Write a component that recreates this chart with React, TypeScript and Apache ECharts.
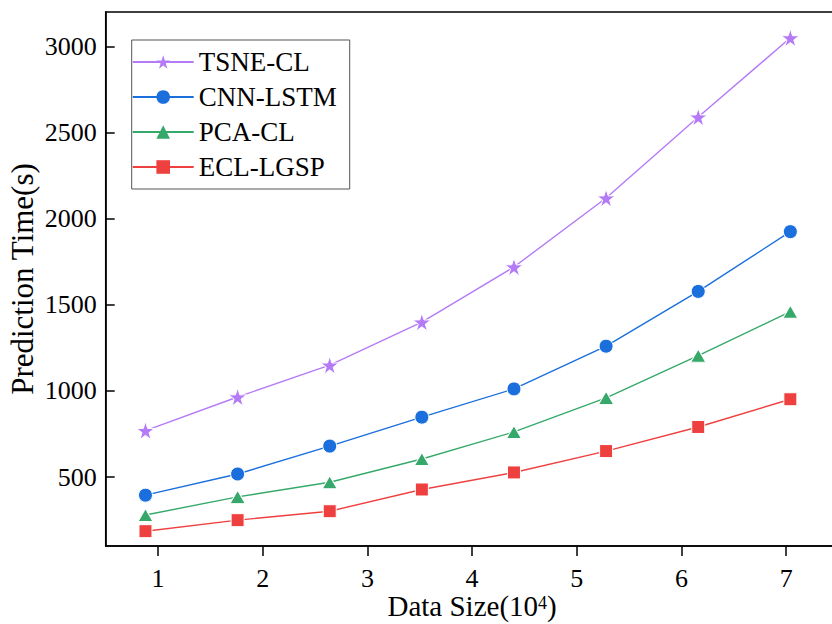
import React, { useEffect, useRef } from "react";
import * as echarts from "echarts";

const dataSize = [0.88, 1.76, 2.64, 3.52, 4.4, 5.28, 6.16, 7.04];
const tsneCL = [770, 965, 1150, 1400, 1720, 2120, 2590, 3050];
const cnnLSTM = [395, 518, 680, 848, 1012, 1260, 1578, 1925];
const pcaCL = [280, 385, 470, 605, 762, 960, 1205, 1460];
const eclLGSP = [186, 250, 302, 428, 527, 651, 791, 952];
const xTicks = [1, 2, 3, 4, 5, 6, 7];
const yTicks = [500, 1000, 1500, 2000, 2500, 3000];

const FONT = "'Liberation Serif', 'Times New Roman', serif";
const STAR =
  "path://M50,0 L61.8,35.1 L98.9,35.1 L68.9,56.8 L80.3,91.9 L50,70.2 L19.7,91.9 L31.1,56.8 L1.1,35.1 L38.2,35.1 Z";

const pairs = (ys: number[]) => ys.map((y, i) => [dataSize[i], y]);

export default function App() {
  const ref = useRef<HTMLDivElement>(null);
  useEffect(() => {
    if (!ref.current) return;
    const chart = echarts.init(ref.current, null, { renderer: "svg" });
    const mk = (name: string, ys: number[], color: string, symbol: string, size: any) => ({
      name,
      type: "line",
      data: pairs(ys),
      symbol,
      symbolSize: size,
      lineStyle: { color, width: 1.4 },
      itemStyle: { color, borderColor: "#fff", borderWidth: 1 },
      emphasis: { disabled: true },
    });
    chart.setOption({
      animation: false,
      backgroundColor: "#fff",
      textStyle: { fontFamily: FONT },
      grid: {
        left: 105.7,
        right: -6.5,
        top: 12,
        bottom: 78,
        outerBoundsMode: "none",
        containLabel: false,
        show: true,
        borderColor: "#000",
        borderWidth: 1.5,
        backgroundColor: "transparent",
      },
      legend: {
        left: 131.7,
        top: 40,
        orient: "vertical",
        itemWidth: 61,
        itemHeight: 17,
        itemGap: 8,
        padding: [8.5, 13, 8.5, 0],
        borderColor: "#555",
        borderWidth: 1,
        backgroundColor: "#fff",
        itemStyle: { borderWidth: 0 },
        textStyle: { fontFamily: FONT, fontSize: 27, color: "#000", lineHeight: 26 },
        data: ["TSNE-CL", "CNN-LSTM", "PCA-CL", "ECL-LGSP"],
      },
      xAxis: {
        type: "value",
        min: 0.5,
        max: 7.5,
        name: "{a|Data Size(10}{s|4}{a|)}",
        nameLocation: "middle",
        nameGap: 48,
        nameMoveOverlap: false,
        nameTextStyle: {
          rich: {
            a: { fontFamily: FONT, fontSize: 29, lineHeight: 24, color: "#000" },
            s: { fontFamily: FONT, fontSize: 18, lineHeight: 8, color: "#000", verticalAlign: "top" },
          },
        },
        axisLine: { show: true, onZero: false, lineStyle: { color: "#000", width: 1.5 } },
        axisTick: { show: true, inside: false, length: 10, lineStyle: { color: "#000", width: 1.5 }, customValues: xTicks },
        axisLabel: { fontFamily: FONT, fontSize: 26, lineHeight: 20, color: "#000", margin: 22, customValues: xTicks },
        splitLine: { show: false },
      },
      yAxis: {
        type: "value",
        min: 100,
        max: 3200,
        name: "Prediction Time(s)",
        nameLocation: "middle",
        nameGap: 68,
        nameMoveOverlap: false,
        nameTextStyle: { fontFamily: FONT, fontSize: 31, color: "#000" },
        axisLine: { show: true, onZero: false, lineStyle: { color: "#000", width: 1.5 } },
        axisTick: { show: true, inside: true, length: 9, lineStyle: { color: "#000", width: 1.5 }, customValues: yTicks },
        axisLabel: {
          fontFamily: FONT,
          fontSize: 26,
          color: "#000",
          margin: 9,
          customValues: yTicks,
          formatter: (v: number) => String(v),
        },
        splitLine: { show: false },
      },
      series: [
        mk("TSNE-CL", tsneCL, "#B57BF7", STAR, 18),
        mk("CNN-LSTM", cnnLSTM, "#1A6FDC", "circle", 14),
        mk("PCA-CL", pcaCL, "#36A96A", "triangle", [15, 13]),
        mk("ECL-LGSP", eclLGSP, "#EF4040", "rect", 13),
      ],
    });
    return () => chart.dispose();
  }, []);
  return (
    <div
      ref={ref}
      style={{ position: "absolute", left: 0, top: 0, width: 832, height: 624 }}
    />
  );
}
